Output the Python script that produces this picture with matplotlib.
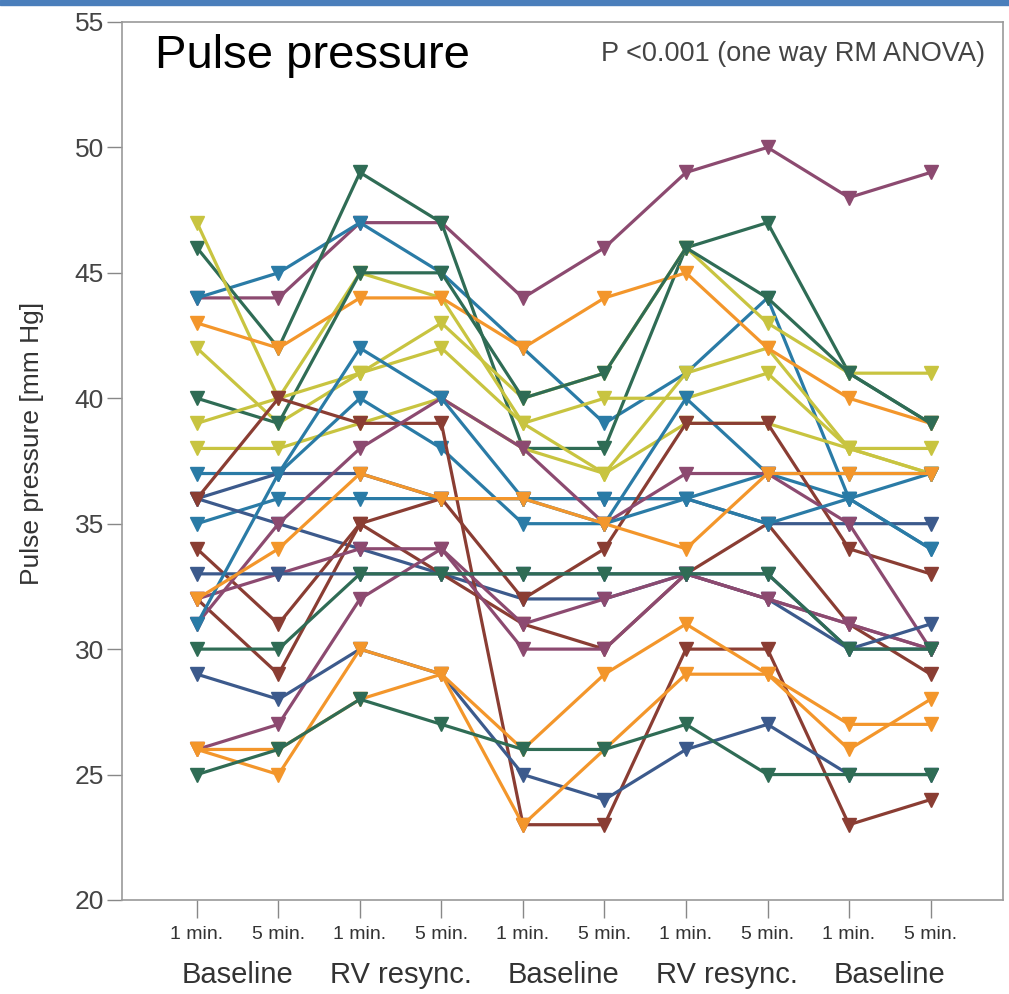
import matplotlib
matplotlib.use("Agg")
import matplotlib.pyplot as plt
from matplotlib.patches import Rectangle

plt.rcParams['font.family'] = ['Liberation Sans', 'DejaVu Sans']

# time points / groups
tick_labels = ['1 min.', '5 min.'] * 5
group_labels = ['Baseline', 'RV resync.', 'Baseline', 'RV resync.', 'Baseline']

# pulse pressure per subject [mm Hg]
s01 = [44, 44, 47, 47, 44, 46, 49, 50, 48, 49]
s02 = [44, 45, 47, 45, 42, 39, 41, 44, 36, 34]
s03 = [46, 42, 49, 47, 38, 38, 46, 47, 41, 39]
s04 = [47, 40, 45, 44, 39, 37, 41, 42, 38, 37]
s05 = [43, 42, 44, 44, 42, 44, 45, 42, 40, 39]
s06 = [42, 39, 41, 43, 40, 41, 46, 43, 41, 41]
s07 = [40, 39, 45, 45, 40, 41, 46, 44, 41, 39]
s08 = [39, 40, 41, 42, 39, 40, 40, 41, 38, 38]
s09 = [38, 38, 39, 40, 38, 37, 39, 39, 38, 37]
s10 = [37, 37, 40, 38, 35, 35, 40, 37, 37, 37]
s11 = [36, 37, 37, 36, 36, 36, 36, 35, 35, 35]
s12 = [35, 36, 36, 36, 36, 36, 36, 37, 36, 34]
s13 = [36, 35, 34, 33, 32, 32, 33, 32, 30, 30]
s14 = [36, 40, 39, 39, 23, 23, 30, 30, 23, 24]
s15 = [34, 31, 35, 33, 31, 30, 33, 35, 31, 29]
s16 = [32, 29, 35, 36, 32, 34, 39, 39, 34, 33]
s17 = [32, 33, 34, 34, 30, 30, 33, 32, 31, 30]
s18 = [26, 27, 32, 34, 31, 32, 33, 32, 31, 30]
s19 = [31, 35, 38, 40, 38, 35, 37, 37, 35, 30]
s20 = [33, 33, 33, 33, 33, 33, 33, 33, 30, 31]
s21 = [31, 37, 42, 40, 36, 35, 36, 35, 36, 37]
s22 = [29, 28, 30, 29, 25, 24, 26, 27, 25, 25]
s23 = [26, 25, 30, 29, 23, 26, 29, 29, 27, 27]
s24 = [26, 26, 28, 29, 26, 29, 31, 29, 26, 28]
s25 = [25, 26, 28, 27, 26, 26, 27, 25, 25, 25]
s26 = [30, 30, 33, 33, 33, 33, 33, 33, 30, 30]
s27 = [32, 34, 37, 36, 36, 35, 34, 37, 37, 37]

PURPLE = '#8c4a70'
TEAL = '#2a7ba6'
GREEN = '#2f6c55'
YELLOW = '#c8c440'
ORANGE = '#f3962b'
DBLUE = '#3c5a8c'
BROWN = '#8a3d33'

series = [
    (s01, PURPLE), (s02, TEAL), (s03, GREEN), (s04, YELLOW), (s05, ORANGE),
    (s06, YELLOW), (s07, GREEN), (s08, YELLOW), (s09, YELLOW), (s10, TEAL),
    (s11, DBLUE), (s12, TEAL), (s13, DBLUE), (s14, BROWN), (s15, BROWN),
    (s16, BROWN), (s17, PURPLE), (s18, PURPLE), (s19, PURPLE), (s20, DBLUE),
    (s21, TEAL), (s22, DBLUE), (s23, ORANGE), (s24, ORANGE), (s25, GREEN),
    (s26, GREEN), (s27, ORANGE),
]

fig = plt.figure(figsize=(10.09, 9.94), dpi=100)
ax = fig.add_axes([0.1209, 0.0946, 0.8732, 0.8833])

x = list(range(len(tick_labels)))
for vals, col in series:
    ax.plot(x, vals, color=col, lw=2.3, marker='v', markersize=10,
            markeredgecolor=col, markerfacecolor=col)

ax.set_xlim(-0.92, 9.89)
ax.set_ylim(20, 55)
ax.set_yticks(range(20, 56, 5))
ax.set_xticks(x)
ax.set_xticklabels(tick_labels, fontsize=14)
ax.tick_params(axis='y', labelsize=19, length=11, width=1, pad=2, color='#888888')
ax.tick_params(axis='x', length=13, width=1, pad=6, color='#888888')
for lbl in ax.get_xticklabels():
    lbl.set_color('#333333')
for lbl in ax.get_yticklabels():
    lbl.set_color('#444444')

for sp in ax.spines.values():
    sp.set_color('#999999')
    sp.set_linewidth(1.2)

ax.set_ylabel('Pulse pressure [mm Hg]', fontsize=19, color='#333333')
ax.yaxis.set_label_coords(-0.088, 0.52)

# group labels under each pair of time points
for i, g in enumerate(group_labels):
    ax.text(2 * i + 0.5, -0.085, g, transform=ax.get_xaxis_transform(),
            ha='center', va='center', fontsize=21, color='#333333')

ax.text(0.037, 0.961, 'Pulse pressure', transform=ax.transAxes,
        ha='left', va='center', fontsize=34, color='black')
ax.text(0.98, 0.963, 'P <0.001 (one way RM ANOVA)', transform=ax.transAxes,
        ha='right', va='center', fontsize=19.5, color='#444444')

# slide border at the top
fig.patches.append(Rectangle((0, 0.995), 1, 0.005, transform=fig.transFigure,
                             color='#4a7ebb', zorder=0))

fig.savefig('out.png', dpi=100)
